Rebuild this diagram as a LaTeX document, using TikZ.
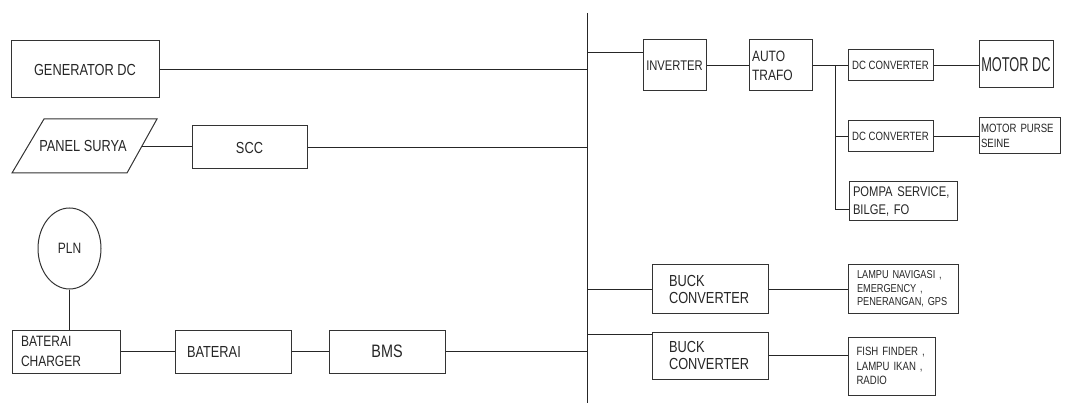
\documentclass[tikz,border=0pt]{standalone}
\usepackage{fontspec}
\setmainfont{Liberation Sans}[FakeStretch=0.8]
\usetikzlibrary{shapes.geometric,calc}
\newcommand\fs[2]{\fontsize{#1}{#2}\selectfont}
\begin{document}
\begin{tikzpicture}[x=1pt,y=-1pt,
  box/.style={draw=black!80, line width=1pt, rectangle, inner sep=0pt, text=black!85},
  lbox/.style={box, align=left},
  wire/.style={draw=black!85, line width=0.9pt}]
\useasboundingbox (0,0) rectangle (1065,403);
% bus
\coordinate (bt) at (587,13);
\coordinate (bb) at (587,403);
\draw[wire] (bt) -- (bb);
% left side
\node[box, minimum width=148pt, minimum height=57pt, font=\fs{16}{19}] (gen) at (85,69.5) {GENERATOR DC};
\draw[draw=black!80, line width=1pt] (12,173) -- (44,119) -- (157,119) -- (127,173) -- cycle;
\node[text=black!85, inner sep=0pt, font=\fs{16}{19}] (panel) at (83,146) {PANEL SURYA};
\coordinate (pe) at (142,146);
\node[box, minimum width=115pt, minimum height=43pt, font=\fs{16}{19}] (scc) at (249.5,147.5) {SCC};
\node[draw=black!80, line width=1pt, text=black!85, ellipse, minimum width=63pt, minimum height=81pt, inner sep=0pt, font=\fs{15}{18}] (pln) at (69.5,248.5) {PLN};
\node[lbox, text width=90pt, inner xsep=9pt, minimum height=43pt, font=\fs{15}{20}] (chg) at (66,351.5) {BATERAI\\CHARGER};
\node[lbox, text width=92pt, inner xsep=12pt, minimum height=43pt, font=\fs{16}{19}] (bat) at (233,351.5) {BATERAI};
\node[box, minimum width=116pt, minimum height=43pt, font=\fs{18}{21}] (bms) at (387,351.5) {BMS};
% right side
\node[box, minimum width=63pt, minimum height=51pt, font=\fs{14}{17}] (inv) at (674.5,65.5) {INVERTER};
\node[lbox, text width=57pt, inner xsep=3pt, minimum height=51pt, font=\fs{15}{19}] (auto) at (780.5,65.5) {AUTO\\TRAFO};
\node[box, minimum width=85pt, minimum height=31pt, font=\fs{12}{14}] (dc1) at (890.5,65.5) {DC CONVERTER};
\node[box, minimum width=74pt, minimum height=47pt, font=\fs{20}{24}] (mdc) at (1016,64.5) {\scalebox{0.8}[1]{MOTOR DC}};
\node[box, minimum width=85pt, minimum height=31pt, font=\fs{12}{14}] (dc2) at (890.5,136.5) {DC CONVERTER};
\node[lbox, text width=77pt, inner xsep=2pt, minimum height=36pt, font=\fs{12}{15}] (mps) at (1019.5,136) {MOTOR PURSE\\SEINE};
\node[lbox, text width=100pt, inner xsep=4pt, minimum height=39pt, font=\fs{14}{18}] (pompa) at (903,201.5) {POMPA SERVICE,\\BILGE, FO};
\node[lbox, text width=82pt, inner xsep=17pt, minimum height=48pt, font=\fs{16}{17}] (buck1) at (710,289) {BUCK\\CONVERTER};
\node[lbox, text width=92pt, inner xsep=9pt, minimum height=48pt, font=\fs{11.5}{13.5}] (lampu) at (903,289) {LAMPU NAVIGASI ,\\EMERGENCY ,\\PENERANGAN, GPS};
\node[lbox, text width=82pt, inner xsep=17pt, minimum height=47pt, font=\fs{16}{17}] (buck2) at (710,355.5) {BUCK\\CONVERTER};
\node[lbox, text width=70pt, inner xsep=8.5pt, minimum height=58pt, font=\fs{12}{14.5}] (fish) at (891.5,366) {FISH FINDER ,\\LAMPU IKAN ,\\RADIO};
% connectors left
\draw[wire] (gen.east) -- (gen.east -| bt);
\draw[wire] (pe) -- (pe -| scc.west);
\draw[wire] (scc.east) -- (scc.east -| bt);
\draw[wire] (pln.south) -- (pln.south |- chg.north);
\draw[wire] (chg.east) -- (bat.west);
\draw[wire] (bat.east) -- (bms.west);
\draw[wire] (bms.east) -- (bms.east -| bt);
% connectors right
\coordinate (ia) at ($(inv.north west)!0.25!(inv.south west)$);
\draw[wire] (ia -| bt) -- (ia);
\draw[wire] (inv.east) -- (auto.west);
\coordinate (jt) at (835,65.5);
\coordinate (jb) at (835,209);
\draw[wire] (auto.east) -- (jt) -- (dc1.west);
\draw[wire] (jt) -- (jb) -- (jb -| pompa.west);
\draw[wire] (dc2.west -| jt) -- (dc2.west);
\draw[wire] (dc1.east) -- (dc1.east -| mdc.west);
\draw[wire] (dc2.east) -- (dc2.east -| mps.west);
\draw[wire] (buck1.west -| bt) -- (buck1.west);
\draw[wire] (buck1.east) -- (lampu.west);
\coordinate (ib) at ($(buck2.north west)!0.07!(buck2.south west)$);
\draw[wire] (ib -| bt) -- (ib);
\draw[wire] (buck2.east) -- (buck2.east -| fish.west);
\end{tikzpicture}
\end{document}
